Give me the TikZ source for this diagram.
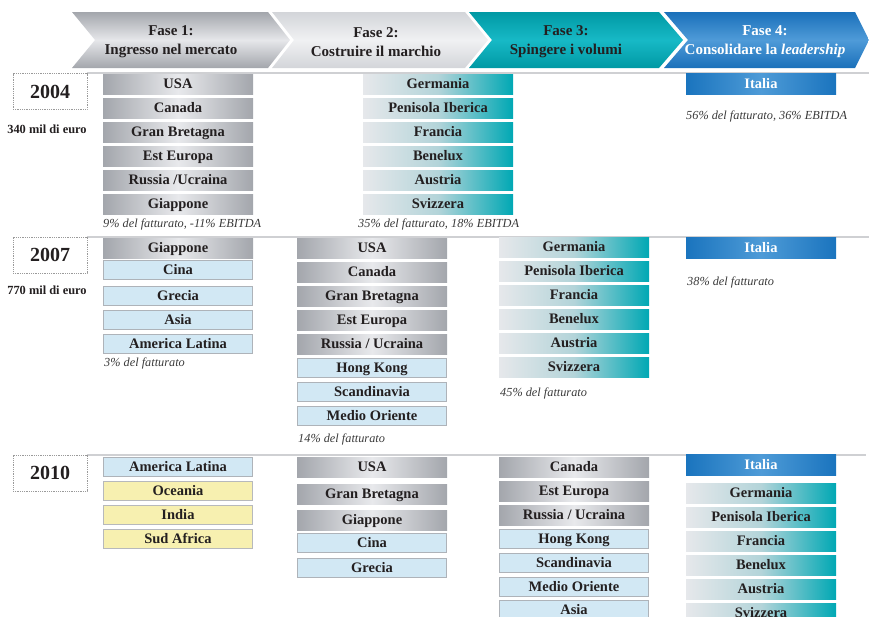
\documentclass[tikz,border=0pt]{standalone}
\usepackage{fontspec}
\setmainfont{Liberation Serif}
\definecolor{txt}{HTML}{231F20}
\definecolor{gEdge}{HTML}{A3A6AC}
\definecolor{gMid}{HTML}{E8E9EC}
\definecolor{tL}{HTML}{E6E8EB}
\definecolor{tM}{HTML}{B3D4D9}
\definecolor{tR}{HTML}{00A8B4}
\definecolor{bEdge}{HTML}{1A74BE}
\definecolor{bMid}{HTML}{4E9BD7}
\definecolor{lblue}{HTML}{D2E8F4}
\definecolor{lborder}{HTML}{AEB3B9}
\definecolor{lyellow}{HTML}{F7F0B0}
\definecolor{yborder}{HTML}{B7B9BC}
\definecolor{noteC}{HTML}{3A3A3A}
\definecolor{dotC}{HTML}{9A9A9A}
\definecolor{sepC}{HTML}{CFD0D3}
\definecolor{h1E}{HTML}{A3A6AC}
\definecolor{h1M}{HTML}{E6E7EA}
\definecolor{h2E}{HTML}{D3D5D9}
\definecolor{h2M}{HTML}{F0F1F3}
\definecolor{h3E}{HTML}{0099A4}
\definecolor{h3M}{HTML}{17B9C6}
\definecolor{h4E}{HTML}{1A70BA}
\definecolor{h4M}{HTML}{4F9BD8}
\newcommand\myBarFont{\bfseries\fontsize{14.5}{14.5}\selectfont}
\tikzset{
  cbase/.style={minimum width=150pt, minimum height=20pt, inner sep=0pt,
    text height=11pt, text depth=2pt, font=\myBarFont, text=txt},
  gbar/.style={cbase, left color=gEdge, right color=gEdge, middle color=gMid},
  tbar/.style={cbase, left color=tL, right color=tR, middle color=tM},
  bbar/.style={cbase, minimum height=21pt, left color=bEdge, right color=bEdge, middle color=bMid, text=white},
  lbar/.style={cbase, fill=lblue, draw=lborder, line width=1pt, minimum width=149pt, minimum height=19pt},
  ybar/.style={cbase, fill=lyellow, draw=yborder, line width=1pt, minimum width=149pt, minimum height=19pt},
  note/.style={anchor=west, inner sep=0pt, font=\itshape\fontsize{12.3}{12.3}\selectfont, text=noteC},
  yearbox/.style={draw=dotC, densely dotted, line width=0.8pt, minimum width=74pt, minimum height=36pt,
    inner sep=0pt, font=\bfseries\fontsize{20}{20}\selectfont, text=txt},
  euro/.style={inner sep=0pt, font=\bfseries\fontsize{12.4}{12.4}\selectfont, text=txt},
  sep/.style={draw=sepC, line width=1.6pt},
  hdr/.style={align=center, inner sep=0pt, font=\bfseries\fontsize{15}{19}\selectfont, text=txt},
}
\begin{document}
\begin{tikzpicture}[x=1pt,y=-1pt]
\useasboundingbox (0,0) rectangle (869,616);
% header chevrons
\shade[top color=h1E, bottom color=h1E, middle color=h1M]
  (72,12) -- (268,12) -- (290,40) -- (268,68) -- (72,68) -- (95,40) -- cycle;
\shade[top color=h2E, bottom color=h2E, middle color=h2M]
  (272,12) -- (465,12) -- (488,40) -- (465,68) -- (272,68) -- (294,40) -- cycle;
\shade[top color=h3E, bottom color=h3E, middle color=h3M]
  (469,12) -- (659,12) -- (683,40) -- (659,68) -- (469,68) -- (492,40) -- cycle;
\shade[top color=h4E, bottom color=h4E, middle color=h4M]
  (664,12) -- (855,12) -- (869,40) -- (855,68) -- (664,68) -- (688,40) -- cycle;
\node[hdr] (f1) at (171,42) {Fase 1:\\Ingresso nel mercato};
\node[hdr] (f2) at (376,42) {Fase 2:\\Costruire il marchio};
\node[hdr] (f3) at (566,42) {Fase 3:\\Spingere i volumi};
\node[hdr, text=white] (f4) at (765,42) {Fase 4:\\Consolidare la \textit{leadership}};
% separators
\draw[sep] (87,73) -- (869,73);
\draw[sep] (87,237) -- (869,237);
\draw[sep] (87,455) -- (866,455);
% years
\node[yearbox, fill=white] (y04) at (50,91.5) {2004};
\node[euro] (e04) at (47,129) {340 mil di euro};
\node[yearbox, fill=white] (y07) at (50,255) {2007};
\node[euro] (e07) at (47,290) {770 mil di euro};
\node[yearbox, fill=white] (y10) at (50,473) {2010};
% 2004
\node[gbar] (a1) at (178,84) {USA};
\node[gbar] (a2) at (178,108) {Canada};
\node[gbar] (a3) at (178,132) {Gran Bretagna};
\node[gbar] (a4) at (178,156) {Est Europa};
\node[gbar] (a5) at (178,180) {Russia /Ucraina};
\node[gbar] (a6) at (178,204) {Giappone};
\node[note] (an) at (103,224) {9\% del fatturato, -11\% EBITDA};
\node[tbar] (b1) at (438,84) {Germania};
\node[tbar] (b2) at (438,108) {Penisola Iberica};
\node[tbar] (b3) at (438,132) {Francia};
\node[tbar] (b4) at (438,156) {Benelux};
\node[tbar] (b5) at (438,180) {Austria};
\node[tbar] (b6) at (438,204) {Svizzera};
\node[note] (bn) at (358,224) {35\% del fatturato, 18\% EBITDA};
\node[bbar] (c1) at (761,83.5) {Italia};
\node[note] (cn) at (686,116) {56\% del fatturato, 36\% EBITDA};
% 2007
\node[gbar] (d1) at (178,248) {Giappone};
\node[lbar] (d2) at (178,270) {Cina};
\node[lbar] (d3) at (178,296) {Grecia};
\node[lbar] (d4) at (178,320) {Asia};
\node[lbar] (d5) at (178,344) {America Latina};
\node[note] (dn) at (104,363) {3\% del fatturato};
\node[gbar] (g1) at (372,248) {USA};
\node[gbar] (g2) at (372,272) {Canada};
\node[gbar] (g3) at (372,296) {Gran Bretagna};
\node[gbar] (g4) at (372,320) {Est Europa};
\node[gbar] (g5) at (372,344) {Russia / Ucraina};
\node[lbar] (g6) at (372,368) {Hong Kong};
\node[lbar] (g7) at (372,392) {Scandinavia};
\node[lbar] (g8) at (372,416) {Medio Oriente};
\node[note] (gn) at (298,439) {14\% del fatturato};
\node[tbar] (h1) at (574,247) {Germania};
\node[tbar] (h2) at (574,271) {Penisola Iberica};
\node[tbar] (h3) at (574,295) {Francia};
\node[tbar] (h4) at (574,319) {Benelux};
\node[tbar] (h5) at (574,343) {Austria};
\node[tbar] (h6) at (574,367) {Svizzera};
\node[note] (hn) at (500,393) {45\% del fatturato};
\node[bbar] (i1) at (761,248) {Italia};
\node[note] (in) at (687,282) {38\% del fatturato};
% 2010
\node[lbar] (j1) at (178,467) {America Latina};
\node[ybar] (j2) at (178,491) {Oceania};
\node[ybar] (j3) at (178,515) {India};
\node[ybar] (j4) at (178,539) {Sud Africa};
\node[gbar] (k1) at (372,467) {USA};
\node[gbar] (k2) at (372,494) {Gran Bretagna};
\node[gbar] (k3) at (372,520) {Giappone};
\node[lbar] (k4) at (372,543) {Cina};
\node[lbar] (k5) at (372,568) {Grecia};
\node[gbar] (m1) at (574,467) {Canada};
\node[gbar] (m2) at (574,491) {Est Europa};
\node[gbar] (m3) at (574,515) {Russia / Ucraina};
\node[lbar] (m4) at (574,539) {Hong Kong};
\node[lbar] (m5) at (574,563) {Scandinavia};
\node[lbar] (m6) at (574,587) {Medio Oriente};
\node[lbar] (m7) at (574,610) {Asia};
\node[bbar] (n1) at (761,464.5) {Italia};
\node[tbar] (n2) at (761,493) {Germania};
\node[tbar] (n3) at (761,517) {Penisola Iberica};
\node[tbar] (n4) at (761,541) {Francia};
\node[tbar] (n5) at (761,565) {Benelux};
\node[tbar] (n6) at (761,589) {Austria};
\node[tbar] (n7) at (761,613) {Svizzera};
\end{tikzpicture}
\end{document}
